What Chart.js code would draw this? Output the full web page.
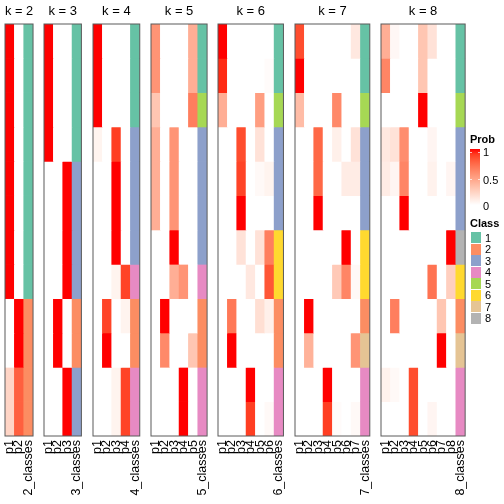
<!DOCTYPE html>
<html><head><meta charset="utf-8">
<script src="https://cdn.jsdelivr.net/npm/chart.js@4.4.1/dist/chart.umd.min.js"></script>
<style>
html,body{margin:0;padding:0;background:#fff;}
#wrap{position:relative;width:504px;height:504px;overflow:hidden;font-family:"Liberation Sans",Arial,sans-serif;color:#000;}
#wrap canvas{position:absolute;top:0;}
.lg{position:absolute;font-size:11px;line-height:12px;white-space:nowrap;}
.lgt{font-weight:bold;}
.sw{position:absolute;width:10px;height:11px;}
</style>
</head><body>
<div id="wrap"></div>
<script>
// ---------------- data ----------------
const kValues = [2, 3, 4, 5, 6, 7, 8];
const classNames = ['1', '2', '3', '4', '5', '6', '7', '8'];
const probTicks = ['1', '0.5', '0'];

const classK2 = [1,1,1,1,1,1,1,1,2,2,2,2];
const probK2 = [
  [1,0],[1,0],[1,0],[1,0],[1,0],[1,0],[1,0],[1,0],
  [0,1],[0,1],[0.22,0.78],[0.22,0.78]
];
const classK3 = [1,1,1,1,3,3,3,3,2,2,3,3];
const probK3 = [
  [1,0,0],[1,0,0],[1,0,0],[1,0,0],
  [0,0,1],[0,0,1],[0,0,1],[0,0,1],
  [0,1,0],[0,1,0],[0,0,1],[0,0,1]
];
const classK4 = [1,1,1,3,3,3,3,4,2,2,4,4];
const probK4 = [
  [1,0,0,0],[1,0,0,0],[1,0,0,0],
  [0.06,0,0.9,0],[0,0,1,0],[0,0,1,0],[0,0,1,0],
  [0,0,0.06,0.88],
  [0,0.88,0,0.06],[0,1,0,0],
  [0,0,0.06,0.88],[0,0,0.06,0.88]
];
const classK5 = [1,1,5,3,3,3,3,4,2,2,4,4];
const probK5 = [
  [0.55,0,0,0,0.42],[0.55,0,0,0,0.42],
  [0.3,0,0,0,0.65],
  [0.42,0,0.55,0,0],[0.42,0,0.55,0,0],[0.42,0,0.55,0,0],
  [0,0,1,0,0],
  [0,0,0.42,0.55,0],
  [0,1,0,0,0],[0,0.6,0,0,0.3],
  [0,0,0,1,0],[0,0,0,1,0]
];
const classK6 = [1,1,5,3,3,3,6,6,2,2,4,4];
const probK6 = [
  [1,0,0,0,0,0],[0.95,0,0,0,0,0.02],
  [0.42,0,0,0,0.5,0],
  [0,0,0.85,0,0.15,0],[0,0,0.88,0,0.03,0.06],[0,0,1,0,0,0],
  [0,0,0.15,0,0.15,0.65],[0,0,0,0.12,0,0.82],
  [0,0.68,0,0,0.17,0.08],[0,1,0,0,0,0],
  [0,0,0,1,0,0],[0,0,0,0.9,0,0.03]
];
const classK7 = [1,1,5,3,3,3,6,6,2,7,4,4];
const probK7 = [
  [0.85,0,0,0,0,0,0.12],[1,0,0,0,0,0,0],
  [0.35,0,0,0,0.6,0,0],
  [0,0,0.75,0,0.08,0,0.15],[0,0,0.75,0,0,0.1,0.1],[0,0,1,0,0,0,0],
  [0,0,0,0,0,1,0],[0,0,0,0,0.28,0.62,0.03],
  [0,1,0,0,0,0,0],[0,0.4,0,0,0,0,0.55],
  [0,0,0,1,0,0,0],[0,0,0,0.9,0.02,0,0.03]
];
const classK8 = [1,1,5,3,3,3,8,6,2,7,4,4];
const probK8 = [
  [0.42,0.04,0,0,0.3,0.15,0,0],[0.62,0,0,0,0.3,0,0,0],
  [0,0,0,0,1,0,0,0],
  [0.12,0.15,0.58,0,0,0.05,0,0],[0.1,0.05,0.62,0,0,0.07,0,0.05],[0,0,1,0,0,0,0,0],
  [0,0,0,0,0,0,0,1],[0,0,0,0,0,0.7,0,0.25],
  [0,0.65,0,0,0,0,0.3,0],[0,0,0,0,0,0,1,0],
  [0.07,0.03,0,0.85,0,0,0,0],[0,0,0,0.85,0,0.05,0,0]
];
const probTables = [probK2, probK3, probK4, probK5, probK6, probK7, probK8];
const classTables = [classK2, classK3, classK4, classK5, classK6, classK7, classK8];

// ---------------- styles / layout ----------------
const classColors = ['#66C2A5','#FC8D62','#8DA0CB','#E78AC3','#A6D854','#FFD92F','#E5C494','#B3B3B3'];
const panelLeft = [5, 44, 93, 151, 218, 295, 381];
const colWidth = 9.35;
const FONT = '"Liberation Sans", Arial, sans-serif';

// white -> red interpolation in CIE LAB
function labToRgb(L, a, b) {
  const fy = (L + 16) / 116, fx = fy + a / 500, fz = fy - b / 200;
  const f = t => (t ** 3 > 0.008856 ? t ** 3 : (t - 16 / 116) / 7.787);
  const X = 0.95047 * f(fx), Y = 1.0 * f(fy), Z = 1.08883 * f(fz);
  let r = 3.2406 * X - 1.5372 * Y - 0.4986 * Z;
  let g = -0.9689 * X + 1.8758 * Y + 0.0415 * Z;
  let bb = 0.0557 * X - 0.2040 * Y + 1.0570 * Z;
  const gam = c => {
    c = c <= 0.0031308 ? 12.92 * c : 1.055 * Math.pow(c, 1 / 2.4) - 0.055;
    return Math.round(Math.max(0, Math.min(1, c)) * 255);
  };
  return 'rgb(' + gam(r) + ',' + gam(g) + ',' + gam(bb) + ')';
}
function probColor(p) {
  const L = 100 + (53.2408 - 100) * p;
  const a = 80.0925 * p;
  const b = 67.2032 * p;
  return labToRgb(L, a, b);
}

const wrap = document.getElementById('wrap');
const borderPlugin = {
  id: 'panelBorder',
  afterDatasetsDraw(chart) {
    const a = chart.chartArea, ctx = chart.ctx;
    ctx.save();
    ctx.strokeStyle = '#5a5a5a';
    ctx.lineWidth = 1;
    ctx.strokeRect(a.left, a.top, a.right - a.left, a.bottom - a.top);
    ctx.restore();
  }
};

kValues.forEach((k, idx) => {
  const probs = probTables[idx];
  const cls = classTables[idx];
  const labels = [];
  for (let i = 1; i <= k; i++) labels.push('p' + i);
  labels.push(k + '_classes');
  const cols = labels.length;
  const pl = panelLeft[idx];
  const pr = pl + cols * colWidth;
  const cLeft = Math.floor(pl) - 8;
  const cWidth = Math.ceil(pr) + 8 - cLeft;
  const canvas = document.createElement('canvas');
  canvas.width = cWidth; canvas.height = 504;
  canvas.style.left = cLeft + 'px';
  canvas.style.width = cWidth + 'px';
  canvas.style.height = '504px';
  wrap.appendChild(canvas);

  const datasets = probs.map((row, r) => ({
    data: labels.map(() => [r, r + 1]),
    backgroundColor: row.map(probColor).concat([classColors[cls[r] - 1]]),
    borderWidth: 0,
    grouped: false,
    barPercentage: 1,
    categoryPercentage: 1,
    inflateAmount: 0.3
  }));

  new Chart(canvas, {
    type: 'bar',
    data: { labels, datasets },
    options: {
      responsive: false,
      devicePixelRatio: 1,
      animation: false,
      layout: { padding: { left: pl - cLeft, right: cLeft + cWidth - pr, top: 0, bottom: 0 } },
      plugins: {
        legend: { display: false },
        tooltip: { enabled: false },
        title: {
          display: true, text: 'k = ' + k, color: '#000',
          font: { family: FONT, size: 13, weight: 'normal', lineHeight: 1.2 },
          padding: { top: 4, bottom: 4.4 }
        }
      },
      scales: {
        x: {
          type: 'category',
          offset: true,
          grid: { display: false, drawTicks: false },
          border: { display: false },
          ticks: {
            autoSkip: false, maxRotation: 90, minRotation: 90,
            color: '#000', padding: 4,
            font: { family: FONT, size: 12.5 }
          },
          afterFit(s) { s.height = 68; s.paddingLeft = 0; s.paddingRight = 0; }
        },
        y: { display: false, min: 0, max: 12, reverse: true }
      }
    },
    plugins: [borderPlugin]
  });
});

// ---------------- legend (HTML) ----------------
function addDiv(cls, text, left, top, extra) {
  const d = document.createElement('div');
  d.className = cls;
  if (text !== null) d.textContent = text;
  d.style.left = left + 'px'; d.style.top = top + 'px';
  if (extra) Object.assign(d.style, extra);
  wrap.appendChild(d);
  return d;
}
addDiv('lg lgt', 'Prob', 470, 133);
const stops = [];
for (let i = 0; i <= 10; i++) stops.push(probColor(1 - i / 10) + ' ' + (i * 10) + '%');
addDiv('sw', null, 470, 149, { height: '56px', width: '10px', background: 'linear-gradient(to bottom,' + stops.join(',') + ')' });
// white tick marks on the bar
[152, 179].forEach(y => {
  addDiv('sw', null, 470, y, { height: '1px', width: '2px', background: 'rgba(255,255,255,0.7)' });
  addDiv('sw', null, 478, y, { height: '1px', width: '2px', background: 'rgba(255,255,255,0.7)' });
});
const probTickY = [146, 174, 200];
probTicks.forEach((t, i) => addDiv('lg', t, 483, probTickY[i]));
addDiv('lg lgt', 'Class', 470, 217);
classNames.forEach((c, i) => {
  const y = 232 + i * 11.5;
  addDiv('sw', null, 471, y, { background: classColors[i], width: '10px', height: '11px' });
  addDiv('lg', c, 485, y - 0.5);
});
</script>
</body></html>
